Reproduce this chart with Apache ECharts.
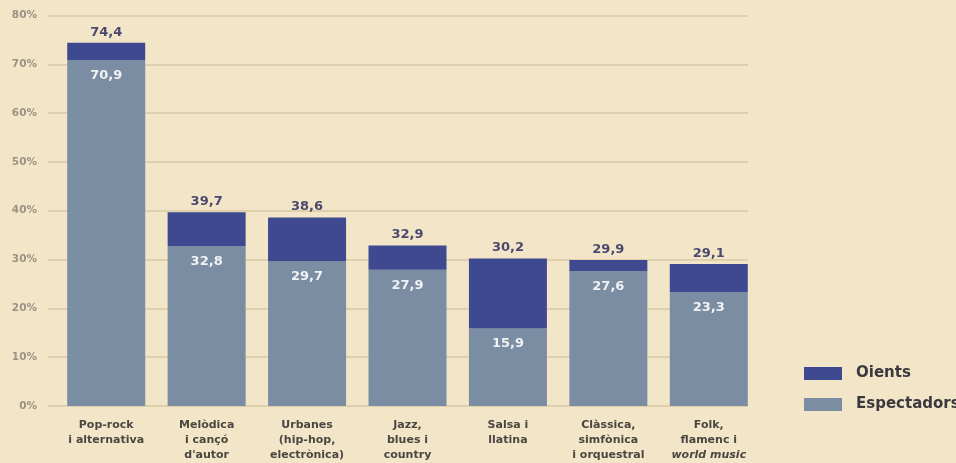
<!DOCTYPE html>
<html>
<head>
<meta charset="utf-8">
<script src="https://cdn.jsdelivr.net/npm/echarts@6/dist/echarts.min.js"></script>
<style>
html,body{margin:0;padding:0;background:#f3e5c8;}
#c{width:956px;height:463px;}
</style>
</head>
<body>
<div id="c"></div>
<script>
var categories = [
  "Pop-rock\ni alternativa",
  "Melòdica\ni cançó\nd'autor",
  "Urbanes\n(hip-hop,\nelectrònica)",
  "Jazz,\nblues i\ncountry",
  "Salsa i\nllatina",
  "Clàssica,\nsimfònica\ni orquestral",
  "Folk,\nflamenc i\n{i|world music}"
];
var espectadors = [70.9, 32.8, 29.7, 27.9, 15.9, 27.6, 23.3];
var oientsTotal = [74.4, 39.7, 38.6, 32.9, 30.2, 29.9, 29.1];
var yTicks = [0, 10, 20, 30, 40, 50, 60, 70, 80];

var oientsPart = oientsTotal.map(function (t, i) { return +(t - espectadors[i]).toFixed(1); });
function fmt(v) { return v.toFixed(1).replace('.', ','); }

var FONT = '"DejaVu Sans", sans-serif';
var chart = echarts.init(document.getElementById('c'));
chart.setOption({
  backgroundColor: '#f3e5c8',
  animation: false,
  textStyle: { fontFamily: FONT },
  grid: [
    { left: 48, right: 208, top: 15.5, bottom: 57 },
    { left: 56, width: 703, top: 15.5, bottom: 57 }
  ],
  legend: {
    orient: 'vertical',
    left: 799,
    top: 361,
    itemWidth: 38,
    itemHeight: 13,
    itemGap: 16,
    icon: 'rect',
    data: ['Oients', 'Espectadors'],
    textStyle: { fontFamily: FONT, fontWeight: 'bold', fontSize: 15, color: '#3a3a3e', padding: [0, 0, 0, 9] }
  },
  xAxis: [
    { type: 'category', gridIndex: 0, data: categories, show: false },
    {
      type: 'category', gridIndex: 1, data: categories,
      axisLine: { show: false }, axisTick: { show: false },
      axisLabel: {
        interval: 0, margin: 12, fontSize: 11, fontWeight: 'bold', color: '#4a4640',
        lineHeight: 15, fontFamily: FONT,
        rich: { i: { fontStyle: 'italic', fontWeight: 'bold', fontSize: 11, color: '#4a4640', fontFamily: FONT } }
      }
    }
  ],
  yAxis: [
    {
      type: 'value', gridIndex: 0, min: yTicks[0], max: yTicks[yTicks.length - 1], interval: 10,
      axisLine: { show: false }, axisTick: { show: false },
      axisLabel: { formatter: '{value}%', fontSize: 10.5, fontWeight: 'bold', color: '#9b9384', margin: 11, fontFamily: FONT },
      splitLine: { lineStyle: { color: '#d8c8a4', width: 1.5 } }
    },
    {
      type: 'value', gridIndex: 1, min: yTicks[0], max: yTicks[yTicks.length - 1], interval: 10,
      show: false, splitLine: { show: false }
    }
  ],
  series: [
    {
      name: 'Espectadors', type: 'bar', stack: 't', xAxisIndex: 1, yAxisIndex: 1,
      data: espectadors, barWidth: 78,
      itemStyle: { color: '#7a8da2' },
      label: {
        show: true, position: 'insideTop', distance: 9,
        formatter: function (p) { return fmt(p.value); },
        color: '#f1f2f4', fontWeight: 'bold', fontSize: 13, fontFamily: FONT
      }
    },
    {
      name: 'Oients', type: 'bar', stack: 't', xAxisIndex: 1, yAxisIndex: 1,
      data: oientsPart, barWidth: 78,
      itemStyle: { color: '#3f4990' },
      label: {
        show: true, position: 'top', distance: 4,
        formatter: function (p) { return fmt(oientsTotal[p.dataIndex]); },
        color: '#4b4a6e', fontWeight: 'bold', fontSize: 13, fontFamily: FONT
      }
    }
  ]
});
</script>
</body>
</html>
